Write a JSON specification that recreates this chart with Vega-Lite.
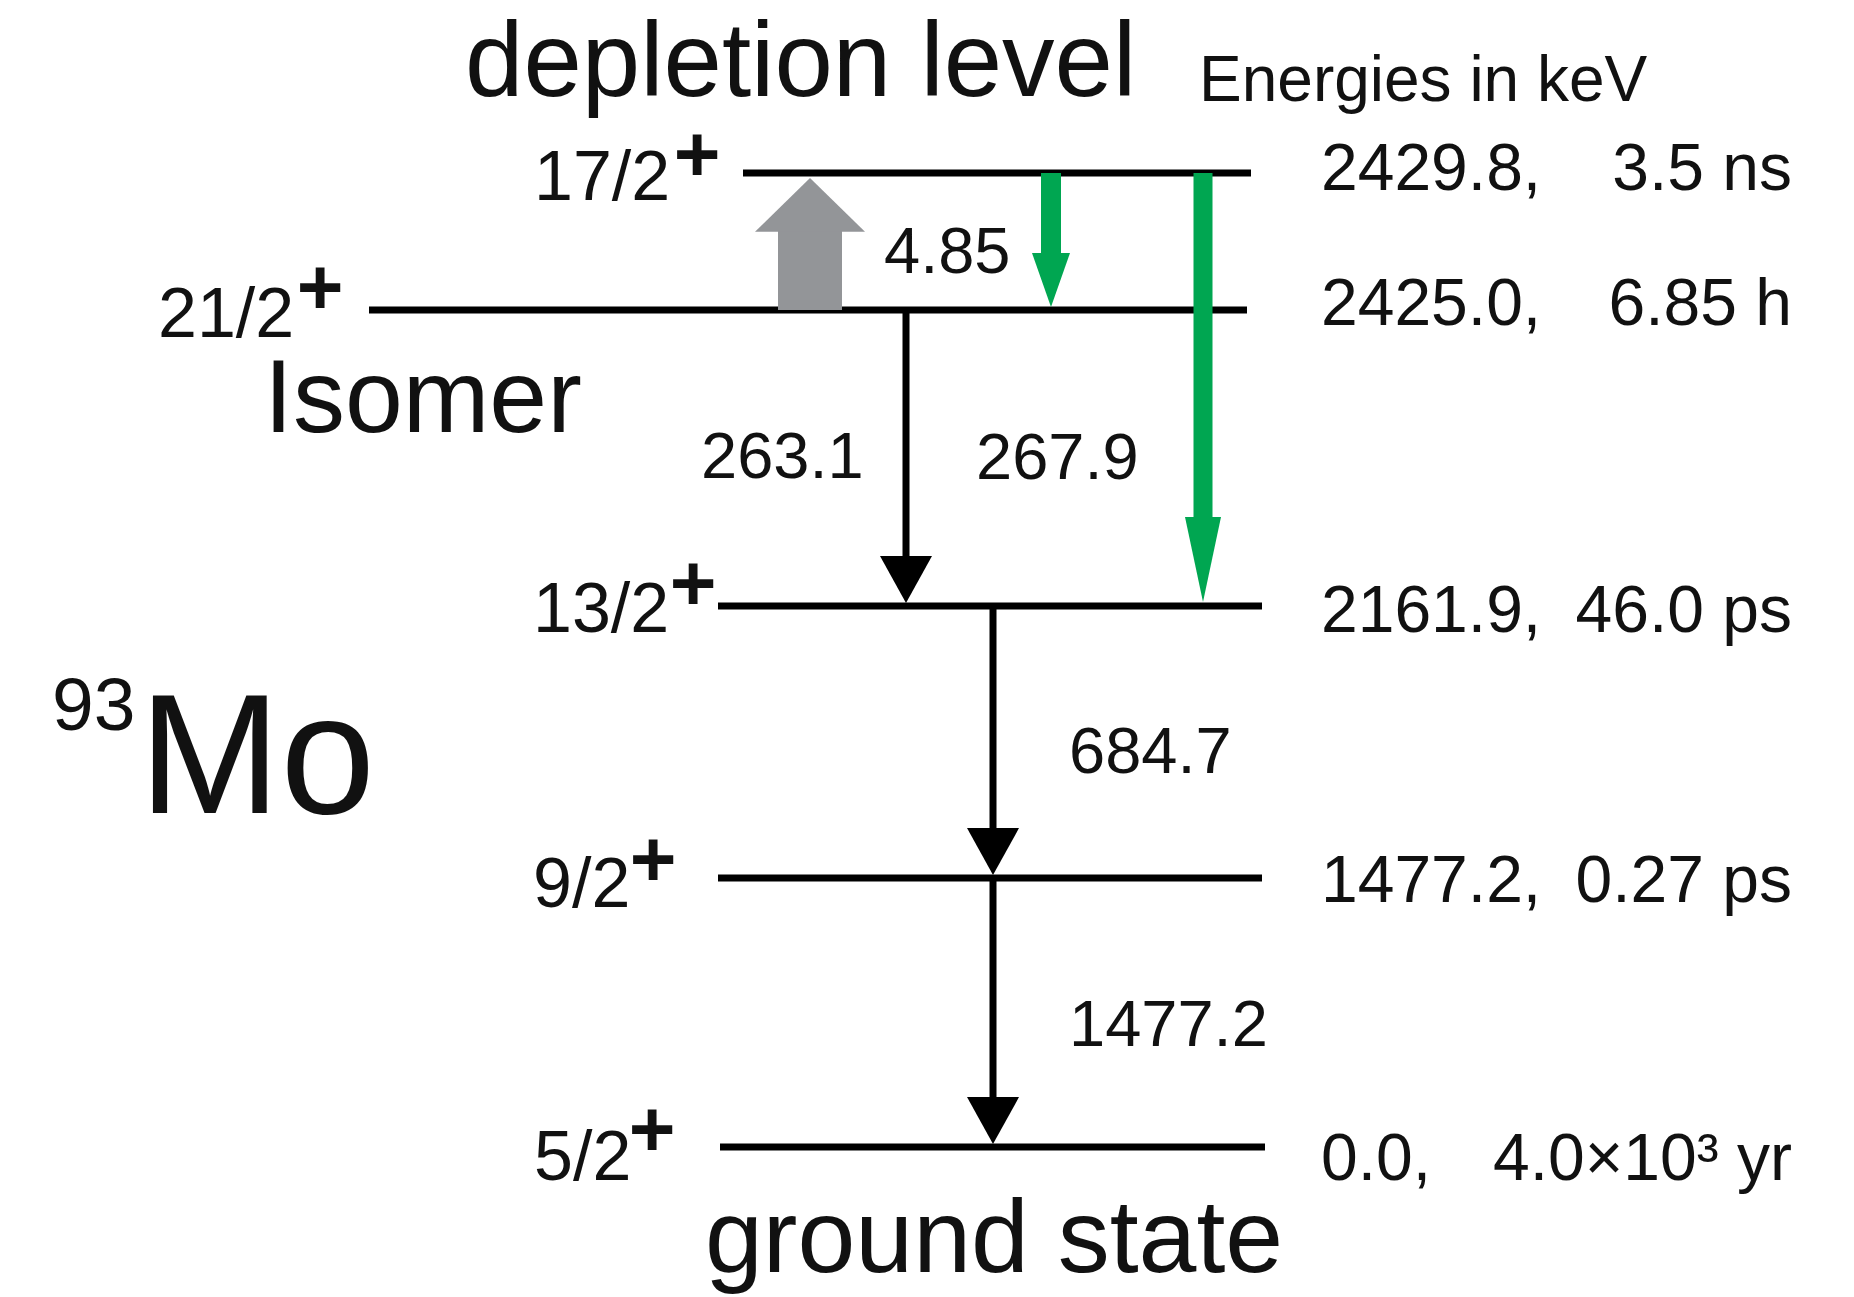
{
  "$schema": "https://vega.github.io/schema/vega-lite/v6.json",
  "width": 1854,
  "height": 1297,
  "autosize": {"type": "none"},
  "padding": 0,
  "background": "white",
  "config": {"view": {"stroke": null}, "text": {"font": "Liberation Sans", "color": "#111111"}},
  "datasets": {
    "levels": [
      {"spin": "17/2", "y": 173, "x1": 743, "x2": 1251},
      {"spin": "21/2", "y": 310, "x1": 369, "x2": 1247},
      {"spin": "13/2", "y": 606, "x1": 718, "x2": 1262},
      {"spin": "9/2", "y": 878, "x1": 718, "x2": 1262},
      {"spin": "5/2", "y": 1147, "x1": 720, "x2": 1265}
    ],
    "arrows": [
      {"id": "gray", "x": 810, "from": 310, "to": 173},
      {"id": "g1", "x": 1051, "from": 173, "to": 310},
      {"id": "g2", "x": 1203, "from": 173, "to": 606},
      {"id": "b1", "x": 906, "from": 310, "to": 606},
      {"id": "b2", "x": 993, "from": 606, "to": 878},
      {"id": "b3", "x": 993, "from": 878, "to": 1147}
    ],
    "labels": [
      {"text": "depletion level", "x": 465, "y": 96, "kind": "big"},
      {"text": "Isomer", "x": 264, "y": 432, "kind": "big"},
      {"text": "ground state", "x": 705, "y": 1272, "kind": "big"},
      {"text": "Energies in keV", "x": 1199, "y": 101, "kind": "note"},
      {"text": "Mo", "x": 139, "y": 813, "kind": "nuclide"},
      {"text": "93", "x": 52, "y": 730, "kind": "mass"},
      {"text": "17/2", "x": 534, "y": 200, "kind": "spin"},
      {"text": "21/2", "x": 158, "y": 337, "kind": "spin"},
      {"text": "13/2", "x": 533, "y": 632, "kind": "spin"},
      {"text": "9/2", "x": 533, "y": 907, "kind": "spin"},
      {"text": "5/2", "x": 534, "y": 1180, "kind": "spin"},
      {"text": "+", "x": 697, "y": 157, "kind": "parity"},
      {"text": "+", "x": 320, "y": 290, "kind": "parity"},
      {"text": "+", "x": 693, "y": 586, "kind": "parity"},
      {"text": "+", "x": 653, "y": 862, "kind": "parity"},
      {"text": "+", "x": 652, "y": 1132, "kind": "parity"},
      {"text": "4.85", "x": 884, "y": 273, "kind": "gamma"},
      {"text": "263.1", "x": 701, "y": 478, "kind": "gamma"},
      {"text": "267.9", "x": 976, "y": 479, "kind": "gamma"},
      {"text": "684.7", "x": 1069, "y": 773, "kind": "gamma"},
      {"text": "1477.2", "x": 1069, "y": 1046, "kind": "gamma"},
      {"text": "2429.8,", "x": 1321, "y": 190, "kind": "energy"},
      {"text": "2425.0,", "x": 1321, "y": 325, "kind": "energy"},
      {"text": "2161.9,", "x": 1321, "y": 632, "kind": "energy"},
      {"text": "1477.2,", "x": 1321, "y": 902, "kind": "energy"},
      {"text": "0.0,", "x": 1321, "y": 1180, "kind": "energy"},
      {"text": "3.5 ns", "x": 1792, "y": 190, "kind": "life"},
      {"text": "6.85 h", "x": 1792, "y": 325, "kind": "life"},
      {"text": "46.0 ps", "x": 1792, "y": 632, "kind": "life"},
      {"text": "0.27 ps", "x": 1792, "y": 902, "kind": "life"},
      {"text": "4.0×10³ yr", "x": 1792, "y": 1180, "kind": "life"}
    ]
  },
  "layer": [
    {
      "data": {"name": "levels"},
      "mark": {"type": "rule", "color": "#000000", "strokeWidth": 7},
      "encoding": {
        "x": {"field": "x1", "type": "quantitative", "scale": {"domain": [0, 1854], "nice": false, "zero": false}, "axis": null},
        "x2": {"field": "x2"},
        "y": {"field": "y", "type": "quantitative", "scale": {"domain": [0, 1297], "reverse": true, "nice": false, "zero": false}, "axis": null}
      }
    },
    {
      "data": {"name": "arrows"},
      "transform": [{"filter": "datum.id === 'gray'"}],
      "layer": [
        {"mark": {"type": "rule", "color": "#939598", "strokeWidth": 64, "y2Offset": 57}},
        {"mark": {"type": "point", "filled": true, "opacity": 1, "color": "#939598", "strokeWidth": 0, "size": 12100, "shape": "M-1,1.07L1,1.07L0,0.09Z"},
         "encoding": {"y": {"field": "to", "type": "quantitative", "scale": {"domain": [0, 1297], "reverse": true, "nice": false, "zero": false}, "axis": null}}}
      ],
      "encoding": {
        "x": {"field": "x", "type": "quantitative", "scale": {"domain": [0, 1854], "nice": false, "zero": false}, "axis": null},
        "y": {"field": "from", "type": "quantitative", "scale": {"domain": [0, 1297], "reverse": true, "nice": false, "zero": false}, "axis": null},
        "y2": {"field": "to"}
      }
    },
    {
      "data": {"name": "arrows"},
      "transform": [{"filter": "datum.id === 'g1'"}],
      "layer": [
        {"mark": {"type": "rule", "color": "#00a651", "strokeWidth": 20, "y2Offset": -55}},
        {"mark": {"type": "point", "filled": true, "opacity": 1, "color": "#00a651", "strokeWidth": 0, "size": 1444, "shape": "M-1,-3L1,-3L0,-0.16Z"},
         "encoding": {"y": {"field": "to", "type": "quantitative", "scale": {"domain": [0, 1297], "reverse": true, "nice": false, "zero": false}, "axis": null}}}
      ],
      "encoding": {
        "x": {"field": "x", "type": "quantitative", "scale": {"domain": [0, 1854], "nice": false, "zero": false}, "axis": null},
        "y": {"field": "from", "type": "quantitative", "scale": {"domain": [0, 1297], "reverse": true, "nice": false, "zero": false}, "axis": null},
        "y2": {"field": "to"}
      }
    },
    {
      "data": {"name": "arrows"},
      "transform": [{"filter": "datum.id === 'g2'"}],
      "layer": [
        {"mark": {"type": "rule", "color": "#00a651", "strokeWidth": 19, "y2Offset": -87}},
        {"mark": {"type": "point", "filled": true, "opacity": 1, "color": "#00a651", "strokeWidth": 0, "size": 1296, "shape": "M-1,-4.94L1,-4.94L0,-0.22Z"},
         "encoding": {"y": {"field": "to", "type": "quantitative", "scale": {"domain": [0, 1297], "reverse": true, "nice": false, "zero": false}, "axis": null}}}
      ],
      "encoding": {
        "x": {"field": "x", "type": "quantitative", "scale": {"domain": [0, 1854], "nice": false, "zero": false}, "axis": null},
        "y": {"field": "from", "type": "quantitative", "scale": {"domain": [0, 1297], "reverse": true, "nice": false, "zero": false}, "axis": null},
        "y2": {"field": "to"}
      }
    },
    {
      "data": {"name": "arrows"},
      "transform": [{"filter": "datum.id === 'b1' || datum.id === 'b2' || datum.id === 'b3'"}],
      "layer": [
        {"mark": {"type": "rule", "color": "#000000", "strokeWidth": 7, "y2Offset": -46}},
        {"mark": {"type": "point", "filled": true, "opacity": 1, "color": "#000000", "strokeWidth": 0, "size": 2704, "shape": "M-1,-1.92L1,-1.92L0,-0.12Z"},
         "encoding": {"y": {"field": "to", "type": "quantitative", "scale": {"domain": [0, 1297], "reverse": true, "nice": false, "zero": false}, "axis": null}}}
      ],
      "encoding": {
        "x": {"field": "x", "type": "quantitative", "scale": {"domain": [0, 1854], "nice": false, "zero": false}, "axis": null},
        "y": {"field": "from", "type": "quantitative", "scale": {"domain": [0, 1297], "reverse": true, "nice": false, "zero": false}, "axis": null},
        "y2": {"field": "to"}
      }
    },
    {
      "data": {"name": "labels"},
      "encoding": {
        "x": {"field": "x", "type": "quantitative", "scale": {"domain": [0, 1854], "nice": false, "zero": false}, "axis": null},
        "y": {"field": "y", "type": "quantitative", "scale": {"domain": [0, 1297], "reverse": true, "nice": false, "zero": false}, "axis": null},
        "text": {"field": "text", "type": "nominal"}
      },
      "layer": [
        {"transform": [{"filter": "datum.kind === 'big' && datum.text === 'depletion level'"}], "mark": {"type": "text", "align": "left", "baseline": "alphabetic", "fontSize": 105}},
        {"transform": [{"filter": "datum.kind === 'big' && datum.text !== 'depletion level'"}], "mark": {"type": "text", "align": "left", "baseline": "alphabetic", "fontSize": 104}},
        {"transform": [{"filter": "datum.kind === 'note'"}], "mark": {"type": "text", "align": "left", "baseline": "alphabetic", "fontSize": 64}},
        {"transform": [{"filter": "datum.kind === 'nuclide'"}], "mark": {"type": "text", "align": "left", "baseline": "alphabetic", "fontSize": 170}},
        {"transform": [{"filter": "datum.kind === 'mass'"}], "mark": {"type": "text", "align": "left", "baseline": "alphabetic", "fontSize": 75}},
        {"transform": [{"filter": "datum.kind === 'spin'"}], "mark": {"type": "text", "align": "left", "baseline": "alphabetic", "fontSize": 70}},
        {"transform": [{"filter": "datum.kind === 'parity'"}], "mark": {"type": "text", "align": "center", "baseline": "middle", "fontSize": 80, "fontWeight": "bold"}},
        {"transform": [{"filter": "datum.kind === 'gamma'"}], "mark": {"type": "text", "align": "left", "baseline": "alphabetic", "fontSize": 65}},
        {"transform": [{"filter": "datum.kind === 'energy'"}], "mark": {"type": "text", "align": "left", "baseline": "alphabetic", "fontSize": 66}},
        {"transform": [{"filter": "datum.kind === 'life'"}], "mark": {"type": "text", "align": "right", "baseline": "alphabetic", "fontSize": 66}}
      ]
    }
  ]
}
